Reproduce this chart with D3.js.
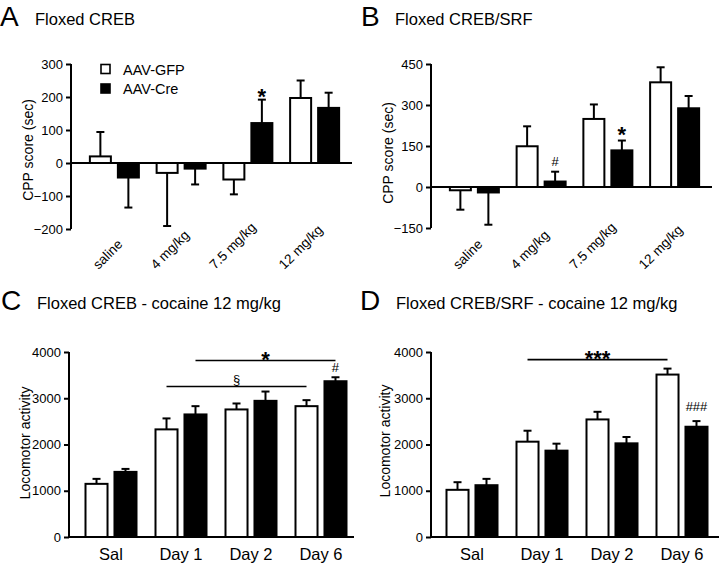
<!DOCTYPE html>
<html><head><meta charset="utf-8">
<script src="https://cdn.jsdelivr.net/npm/d3@7"></script>
<style>
body{margin:0;background:#fff}
svg{display:block}
text{font-family:"Liberation Sans",Arial,Helvetica,sans-serif;fill:#000}
</style>
</head><body>
<svg id="chart" width="720" height="563"></svg>
<script>
// ---------- data ----------
const series = ["AAV-GFP", "AAV-Cre"];
const doses = ["saline", "4 mg/kg", "7.5 mg/kg", "12 mg/kg"];
const days = ["Sal", "Day 1", "Day 2", "Day 6"];

const ticksA = [-200, -100, 0, 100, 200, 300];
const ticksB = [-150, 0, 150, 300, 450];
const ticksCD = [0, 1000, 2000, 3000, 4000];

// Panel A: Floxed CREB, CPP score (sec)
const aGFP = [20, -30, -50, 197];
const aGFPerr = [74, 161, 45, 53];
const aCre = [-44, -17, 121, 167];
const aCreErr = [91, 48, 71, 46];

// Panel B: Floxed CREB/SRF, CPP score (sec)
const bGFP = [-12, 149, 249, 383];
const bGFPerr = [71, 73, 53, 55];
const bCre = [-20, 20, 134, 288];
const bCreErr = [118, 36, 36, 45];

// Panel C: Floxed CREB - cocaine 12 mg/kg, locomotor activity
const cGFP = [1149, 2327, 2758, 2829];
const cGFPerr = [108, 237, 129, 130];
const cCre = [1408, 2650, 2944, 3368];
const cCreErr = [64, 179, 201, 86];

// Panel D: Floxed CREB/SRF - cocaine 12 mg/kg, locomotor activity
const dGFP = [1020, 2061, 2542, 3512];
const dGFPerr = [165, 237, 165, 129];
const dCre = [1120, 1867, 2025, 2384];
const dCreErr = [137, 151, 137, 122];

// ---------- drawing ----------
const svg = d3.select("#chart");
const FONT = '"Liberation Sans",Arial,Helvetica,sans-serif';

function panel(o) {
  const g = svg.append("g");
  const y = d3.scaleLinear().domain(o.domain).range(o.yRange);
  const x = d3.scaleBand().domain(o.cats).range(o.xRange).padding(0);
  const xs = d3.scaleBand().domain(series).range([-o.half, o.half]).paddingInner(o.inner);
  const vals = [o.gfp, o.cre];
  const errs = [o.gfpErr, o.creErr];

  // panel letter + title
  g.append("text").attr("x", o.letterX).attr("y", o.titleY + 1)
    .attr("font-size", 28).text(o.letter);
  g.append("text").attr("x", o.titleX).attr("y", o.titleY)
    .attr("font-size", 16.5).text(o.title);

  const data = [];
  o.cats.forEach((c, i) => series.forEach((s, j) => {
    data.push({c, s, v: vals[j][i], e: errs[j][i], j});
  }));
  const bx = d => x(d.c) + x.bandwidth() / 2 + xs(d.s);

  // error bars (one-sided, away from zero)
  data.forEach(d => {
    const dir = d.v >= 0 ? 1 : -1;
    const tip = d.v + dir * d.e;
    const cx = bx(d) + xs.bandwidth() / 2;
    g.append("line").attr("x1", cx).attr("x2", cx)
      .attr("y1", y(d.v)).attr("y2", y(tip))
      .attr("stroke", "#000").attr("stroke-width", 2);
    g.append("line").attr("x1", cx - 4).attr("x2", cx + 4)
      .attr("y1", y(tip)).attr("y2", y(tip))
      .attr("stroke", "#000").attr("stroke-width", 2);
  });
  g.selectAll("rect.bar").data(data).enter().append("rect")
    .attr("class", "bar")
    .attr("x", bx)
    .attr("width", xs.bandwidth())
    .attr("y", d => y(Math.max(0, d.v)))
    .attr("height", d => Math.abs(y(d.v) - y(0)))
    .attr("fill", d => d.j === 0 ? "#fff" : "#000")
    .attr("stroke", "#000").attr("stroke-width", 2);

  // y axis
  const ya = d3.axisLeft(y).tickValues(o.ticks).tickSize(5).tickPadding(3).tickFormat(d3.format("d"));
  const yg = g.append("g").attr("transform", `translate(${o.axisX},0)`).call(ya);
  yg.select(".domain").attr("stroke-width", 2).attr("d", `M0,${y(o.ticks[0])}V${y(o.ticks[o.ticks.length-1])}`);
  yg.selectAll(".tick line").attr("stroke-width", 2);
  yg.selectAll(".tick text").attr("font-size", 13).attr("font-family", FONT).attr("fill", "#000");

  // zero line / x axis
  g.append("line").attr("x1", o.axisX).attr("x2", o.lineEnd)
    .attr("y1", y(0)).attr("y2", y(0))
    .attr("stroke", "#000").attr("stroke-width", 2);

  // y axis title
  g.append("text")
    .attr("transform", `translate(${o.yTitleX},${o.yTitleY}) rotate(-90)`)
    .attr("text-anchor", "middle").attr("font-size", 14).text(o.yTitle);

  // category labels
  if (o.rotated) {
    o.cats.forEach(c => {
      const t = g.append("text").attr("font-size", 13.5).text(c);
      const L = t.node().getComputedTextLength();
      const cx = x(c) + x.bandwidth() / 2;
      const ex = cx + 9;
      const sx = ex - L * Math.SQRT1_2;
      t.attr("transform", `translate(${sx},${o.labelY}) rotate(-45)`);
    });
  } else {
    o.cats.forEach(c => {
      g.append("text").attr("x", x(c) + x.bandwidth() / 2).attr("y", o.labelY)
        .attr("text-anchor", "middle").attr("font-size", 16.5).text(c);
    });
  }

  return {g, x, xs, y, bx: (c, s) => x(c) + x.bandwidth() / 2 + xs(s) + xs.bandwidth() / 2};
}

// Panel A
const A = panel({
  letter: "A", letterX: 0, titleX: 35, titleY: 25, title: "Floxed CREB",
  cats: doses, gfp: aGFP, gfpErr: aGFPerr, cre: aCre, creErr: aCreErr,
  domain: [-200, 300], yRange: [229, 64], ticks: ticksA,
  xRange: [81, 348], half: 24.5, inner: 0.25, axisX: 71, lineEnd: 352,
  yTitle: "CPP score (sec)", yTitleX: 33, yTitleY: 150, rotated: true, labelY: 270
});
[0, 1].forEach(i => {
  A.g.append("rect").attr("x", 101).attr("y", 64.5 + i * 19.5).attr("width", 9).attr("height", 9)
    .attr("fill", i ? "#000" : "#fff").attr("stroke", "#000").attr("stroke-width", 1.6);
  A.g.append("text").attr("x", 123).attr("y", 74.5 + i * 19.5).attr("font-size", 14.5).text(series[i]);
});
A.g.append("text").attr("x", A.bx(doses[2], series[1])).attr("y", A.y(aCre[2] + aCreErr[2]) + 4)
  .attr("text-anchor", "middle").attr("font-size", 22).attr("font-weight", "bold").text("*");

// Panel B
const B = panel({
  letter: "B", letterX: 361, titleX: 395, titleY: 25, title: "Floxed CREB/SRF",
  cats: doses, gfp: bGFP, gfpErr: bGFPerr, cre: bCre, creErr: bCreErr,
  domain: [-150, 450], yRange: [228, 64], ticks: ticksB,
  xRange: [441, 708], half: 24.5, inner: 0.25, axisX: 431, lineEnd: 712,
  yTitle: "CPP score (sec)", yTitleX: 393, yTitleY: 153, rotated: true, labelY: 270
});
B.g.append("text").attr("x", B.bx(doses[1], series[1])).attr("y", B.y(bCre[1] + bCreErr[1]) - 6)
  .attr("text-anchor", "middle").attr("font-size", 13).text("#");
B.g.append("text").attr("x", B.bx(doses[2], series[1])).attr("y", B.y(bCre[2] + bCreErr[2]) + 1)
  .attr("text-anchor", "middle").attr("font-size", 22).attr("font-weight", "bold").text("*");

// Panel C
const C = panel({
  letter: "C", letterX: 1, titleX: 37, titleY: 309, title: "Floxed CREB - cocaine 12 mg/kg",
  cats: days, gfp: cGFP, gfpErr: cGFPerr, cre: cCre, creErr: cCreErr,
  domain: [0, 4000], yRange: [537, 352], ticks: ticksCD,
  xRange: [76, 356], half: 25.5, inner: 0.24, axisX: 69, lineEnd: 354,
  yTitle: "Locomotor activity", yTitleX: 30, yTitleY: 443, rotated: false, labelY: 560
});
function bracket(P, c1, s1, c2, s2, level, label, size, bold, dy) {
  const yy = P.y(level);
  const x1 = P.bx(c1, s1), x2 = P.bx(c2, s2);
  P.g.append("line").attr("x1", x1).attr("x2", x2).attr("y1", yy).attr("y2", yy)
    .attr("stroke", "#000").attr("stroke-width", 1.6);
  P.g.append("text").attr("x", (x1 + x2) / 2).attr("y", yy + dy)
    .attr("text-anchor", "middle").attr("font-size", size)
    .attr("font-weight", bold ? "bold" : "normal").text(label);
}
bracket(C, days[1], series[1], days[3], series[1], 3815, "*", 22, true, 6);
bracket(C, days[1], series[0], days[3], series[0], 3254, "§", 13, false, -3);
C.g.append("text").attr("x", C.bx(days[3], series[1])).attr("y", C.y(cCre[3] + cCreErr[3]) - 5)
  .attr("text-anchor", "middle").attr("font-size", 13).text("#");

// Panel D
const D = panel({
  letter: "D", letterX: 360, titleX: 396, titleY: 309, title: "Floxed CREB/SRF - cocaine 12 mg/kg",
  cats: days, gfp: dGFP, gfpErr: dGFPerr, cre: dCre, creErr: dCreErr,
  domain: [0, 4000], yRange: [537, 352], ticks: ticksCD,
  xRange: [437, 717], half: 25.5, inner: 0.24, axisX: 431, lineEnd: 719,
  yTitle: "Locomotor activity", yTitleX: 390, yTitleY: 441, rotated: false, labelY: 560
});
bracket(D, days[1], series[0], days[3], series[0], 3836, "***", 22, true, 6);
D.g.append("text").attr("x", D.bx(days[3], series[1])).attr("y", D.y(dCre[3] + dCreErr[3]) - 10)
  .attr("text-anchor", "middle").attr("font-size", 13).text("###");
</script>
</body></html>
